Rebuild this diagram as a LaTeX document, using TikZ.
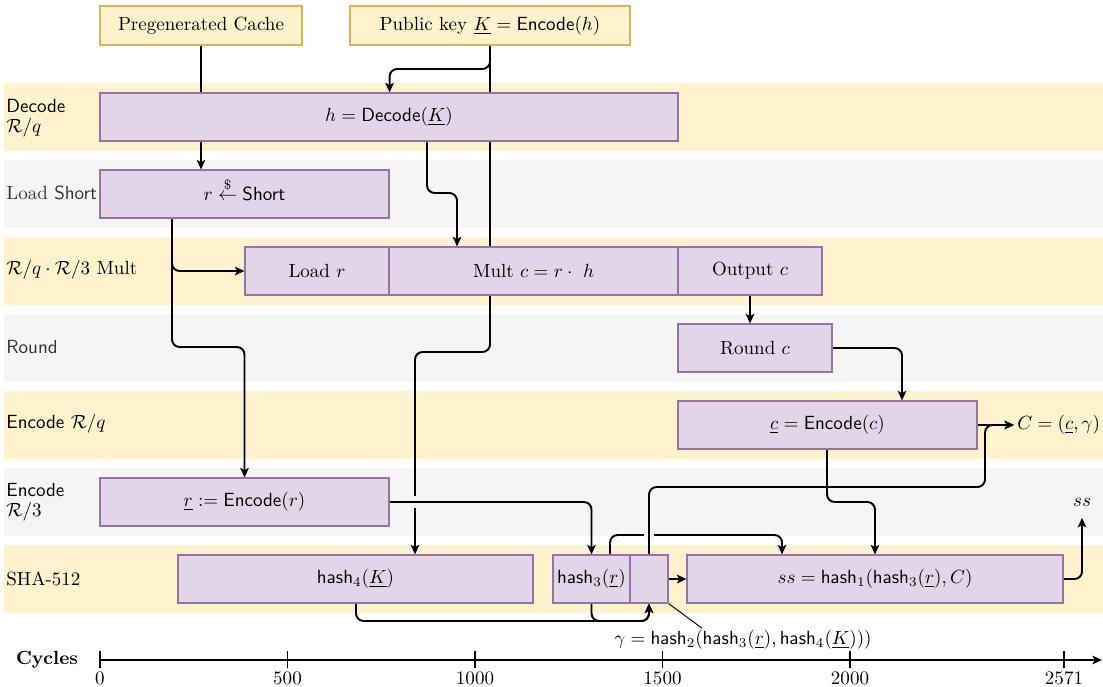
\documentclass[tikz,border=0pt]{standalone}
\usepackage{amsmath}
\usetikzlibrary{arrows.meta}

\definecolor{laneyellow}{HTML}{FFF2CC}
\definecolor{lanegray}{HTML}{F5F5F5}
\definecolor{procfill}{HTML}{E1D5E7}
\definecolor{procline}{HTML}{9673A6}
\definecolor{srcline}{HTML}{D6B656}
\definecolor{taggray}{HTML}{333333}

\pgfdeclarelayer{lanes}
\pgfdeclarelayer{wires}
\pgfsetlayers{lanes,wires,main}

\begin{document}
\begin{tikzpicture}[x=0.525pt, y=-0.525pt,
  % span={left}{top}{right}{bottom}: a box over a pixel-grid rectangle
  span/.style n args={4}{minimum width={(#3-#1)*0.525pt},
                         minimum height={(#4-#2)*0.525pt},
                         at={({(#1+#3)/2},{(#2+#4)/2})}},
  proc/.style={draw=procline, fill=procfill, line width=0.6pt, inner sep=0pt},
  src/.style={draw=srcline, fill=laneyellow, line width=0.6pt, inner sep=0pt},
  lanetag/.style={anchor=west, inner sep=0pt, align=left},
  wire/.style={line width=1pt, rounded corners=4pt},
  flow/.style={wire, -{Stealth[length=5pt,width=4.5pt,inset=1.2pt]}},
  axisline/.style={line width=0.9pt},
]
\useasboundingbox (0,0) rectangle (1103,687);

% swim lanes
\begin{pgfonlayer}{lanes}
  \foreach \t/\c in {83/laneyellow,160/lanegray,237/laneyellow,314/lanegray,
                     391/laneyellow,468/lanegray,545/laneyellow}
    \fill[\c] (4,\t) rectangle (1103,\t+68);
\end{pgfonlayer}

% lane titles
\node[lanetag] (tdec)   at (6,118) {\textsf{Decode}\\[-1.5pt]$\mathcal{R}/q$};
\node[lanetag, text=taggray] (tload) at (6,193) {Load \textsf{Short}};
\node[lanetag] (tmult)  at (6,270) {$\mathcal{R}/q\cdot\mathcal{R}/3$ Mult};
\node[lanetag, text=taggray] (tround) at (6,347) {\textsf{Round}};
\node[lanetag] (tencq)  at (6,424) {\textsf{Encode} $\mathcal{R}/q$};
\node[lanetag] (tenc3)  at (6,502) {\textsf{Encode}\\[-1.5pt]$\mathcal{R}/3$};
\node[lanetag] (tsha)   at (6,579) {SHA-512};

% inputs
\node[src, span={100}{6}{302}{45}] (cache) {Pregenerated Cache};
\node[src, span={350}{6}{630}{45}] (pk) {Public key $\underline{K} = \mathsf{Encode}(h)$};

% processing steps
\node[proc, span={100}{93}{678}{141}]   (dec) {$h = \mathsf{Decode}(\underline{K})$};
\node[proc, span={100}{170}{389}{218}]  (ls)
  {$r \mathrel{\smash{\overset{\$}{\leftarrow}}} \mathsf{Short}$};
\node[proc, span={245}{247}{389}{295}]  (lr)  {Load $r$};
\node[proc, span={389}{247}{678}{295}]  (mu)  {Mult $c = r\cdot\ h$};
\node[proc, span={678}{247}{822}{295}]  (oc)  {Output $c$};
\node[proc, span={678}{324}{832}{372}]  (rc)  {Round $c$};
\node[proc, span={678}{401}{977}{449}]  (ce)  {$\underline{c} = \mathsf{Encode}(c)$};
\node[proc, span={100}{478}{389}{526}]  (re)  {$\underline{r} := \mathsf{Encode}(r)$};
\node[proc, span={178}{555}{533}{603}]  (h4)  {$\mathsf{hash}_4(\underline{K})$};
\node[proc, span={553}{555}{630}{603}]  (h3)  {$\mathsf{hash}_3(\underline{r})$};
\node[proc, span={630}{555}{668}{603}]  (gam) {};
\node[proc, span={687}{555}{1063}{603}] (ssb) {$ss = \mathsf{hash}_1(\mathsf{hash}_3(\underline{r}), C)$};

% outputs
\node[anchor=west, inner sep=1.5pt] (cout) at (1014,425) {$C = (\underline{c}, \gamma)$};
\node[inner sep=6pt] (ssout) at (1082,502) {$ss$};
\node[inner sep=1pt] (glab) at (743,640)
  {$\gamma = \mathsf{hash}_2(\mathsf{hash}_3(\underline{r}), \mathsf{hash}_4(\underline{K})))$};

% data flow
\begin{pgfonlayer}{wires}
  \draw[flow] (cache.south) -- (cache.south |- ls.north);
  \draw[flow] (pk.south) -- (pk.south |- 0,69) -| (ls.east |- dec.north);
  \draw[flow] (pk.south) -- (pk.south |- 0,352) -| (h4.north -| 415,0);
  \draw[flow] (dec.south -| 427,0) -- (427,193) -| (mu.north -| 457,0);
  \draw[flow] (ls.south -| 172,0) |- (lr.west);
  \draw[flow] (ls.south -| 172,0) -- (172,347) -| (re.north);
  \draw[flow] (oc.south) -- (oc.south |- rc.north);
  \draw[flow] (rc.east) -| (ce.north -| 902,0);
  \draw[flow] (ce.east) -- (cout.west);
  \draw[flow] (ce.south -| 827,0) -- (827,502) -| (ssb.north -| 875,0);
  % line jump where the r-encode output crosses the key path
  \fill[lanegray] (409,496) rectangle (421,508);
  \draw[flow] (re.east) -| (h3.north);
  \draw[flow] (h4.south -| 356,0) -- (356,621) -| (gam.south);
  \draw[flow] (h3.south) -- (h3.south |- 0,621) -| (gam.south);
  \draw[flow] (h3.north -| 610,0) -- (610,535) -| (ssb.north -| 782,0);
  % line jump where gamma crosses the hash3 branch
  \fill[lanegray] (644,531) rectangle (654,539);
  \draw[flow] (gam.north) |- (985,487) |- (cout.west);
  \draw[flow] (gam.east) -- (ssb.west);
  \draw[flow] (ssb.east) -| (ssout.south);
  \draw[line width=0.5pt] (gam.south east) -- (glab.north -| 702,0);
\end{pgfonlayer}

% cycle axis
\coordinate (ax0) at (100,660);
\coordinate (ax1) at (1102,660);
\draw[axisline, -{Stealth[length=5pt,width=4.5pt,inset=1.2pt]}] (ax0) -- (ax1);
\node[font=\bfseries] (cyc) at (47,660) {Cycles};
\foreach \px/\lab in {100/0, 287.5/500, 475/1000, 662.5/1500, 850/2000, 1064/2571} {
  \draw[axisline] (\px,651) -- (\px,668);
  \node (tick\lab) at (\px,678) {\lab};
}
\end{tikzpicture}
\end{document}
